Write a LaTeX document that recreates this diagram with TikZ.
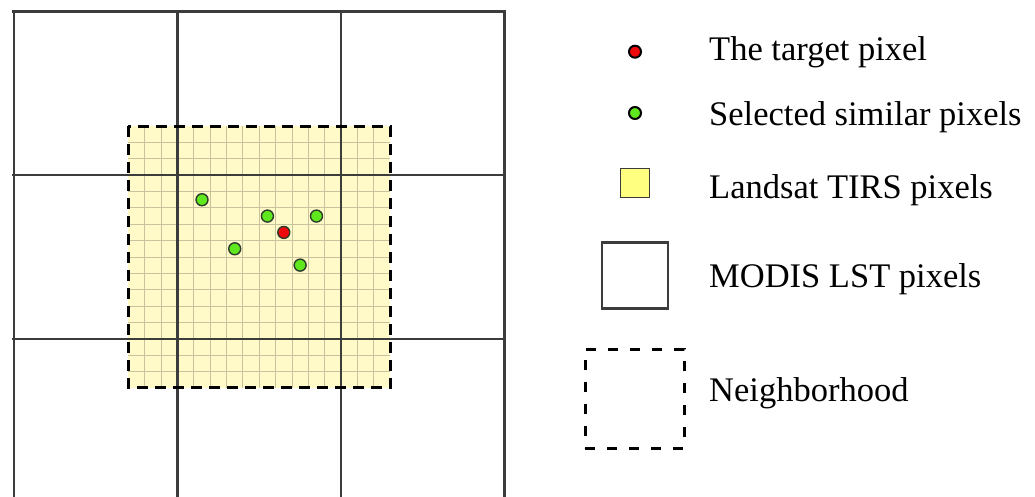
\documentclass[tikz,border=0pt]{standalone}
\usepackage{fontspec}
\setmainfont{Liberation Serif}
\usepackage{xcolor}
\usepackage{tikz}
\usetikzlibrary{positioning}
\definecolor{modisgray}{HTML}{3C3C3C}
\definecolor{tirsfill}{HTML}{FFFAC8}
\definecolor{tirsline}{HTML}{C8C29E}
\definecolor{tirslegend}{HTML}{FFFF80}
\definecolor{simgreen}{HTML}{5FE81E}
\definecolor{targetred}{HTML}{EE0A0A}
\definecolor{dotline}{HTML}{2E3A2A}
\tikzset{
  modisline/.style={draw=modisgray, line width=2.4pt},
  tirsline/.style={draw=tirsline, line width=0.9pt},
  hoodline/.style={draw=black, line width=3pt, dash pattern=on 11pt off 7pt},
  pixdot/.style={circle, draw=#1, line width=1.4pt, minimum size=12pt,
    inner sep=0pt},
  pixdot/.default=dotline,
  legendtext/.style={anchor=base west, inner sep=0pt,
    font=\fontsize{34.5}{40}\selectfont},
}

\begin{document}
\begin{tikzpicture}[x=1pt, y=-1pt]
\clip (0,0) rectangle (1035,497);
\fill[white] (0,0) rectangle (1035,497);
% left panel, one unit = one Landsat pixel
\begin{scope}[shift={(14pt,-11.7pt)}, x=16.35pt, y=-16.35pt]
  \fill[tirsfill] (7,7) rectangle (23,23);
  \foreach \i in {8,...,22} {
    \draw[tirsline] (\i,7) -- (\i,23);
    \draw[tirsline] (7,\i) -- (23,\i);
  }
  \foreach \i in {0,10,20,30}
    \draw[modisline] (\i,0) -- (\i,31);
  \foreach \i in {0,10,20}
    \draw[modisline] (-0.1,\i) -- (30.1,\i);
  \draw[hoodline] (7,7) rectangle (23,23);
  \node[pixdot, fill=simgreen] (sim-a) at (11.5,11.5) {};
  \node[pixdot, fill=simgreen] (sim-b) at (15.5,12.5) {};
  \node[pixdot, fill=simgreen] (sim-c) at (18.5,12.5) {};
  \node[pixdot, fill=simgreen] (sim-d) at (13.5,14.5) {};
  \node[pixdot, fill=simgreen] (sim-e) at (17.5,15.5) {};
  \node[pixdot, fill=targetred] (target) at (16.5,13.5) {};
\end{scope}
% legend
\node[pixdot=black, fill=targetred, line width=2pt] (key-target) at (635,51.7) {};
\node[pixdot=black, fill=simgreen, line width=2pt] (key-similar) at (635,113) {};
\node[rectangle, draw=modisgray, fill=tirslegend, line width=1.2pt,
  minimum size=29pt, inner sep=0pt] (key-tirs) at (634.7,182.8) {};
\node[rectangle, modisline, minimum size=66pt, inner sep=0pt] (key-modis) at (635,275.5) {};
\node[rectangle, draw=black, line width=3pt, dash pattern=on 10pt off 12pt,
  minimum size=99pt, inner sep=0pt] (key-hood) at (634.7,398.8) {};
\node[legendtext] (txt-target) at (709,60.7) {The target pixel};
\node[legendtext] (txt-similar) at (709,125.7) {Selected similar pixels};
\node[legendtext] (txt-tirs) at (709,198.3) {Landsat TIRS pixels};
\node[legendtext] (txt-modis) at (709,287.3) {MODIS LST pixels};
\node[legendtext] (txt-hood) at (709,401) {Neighborhood};
\end{tikzpicture}
\end{document}
